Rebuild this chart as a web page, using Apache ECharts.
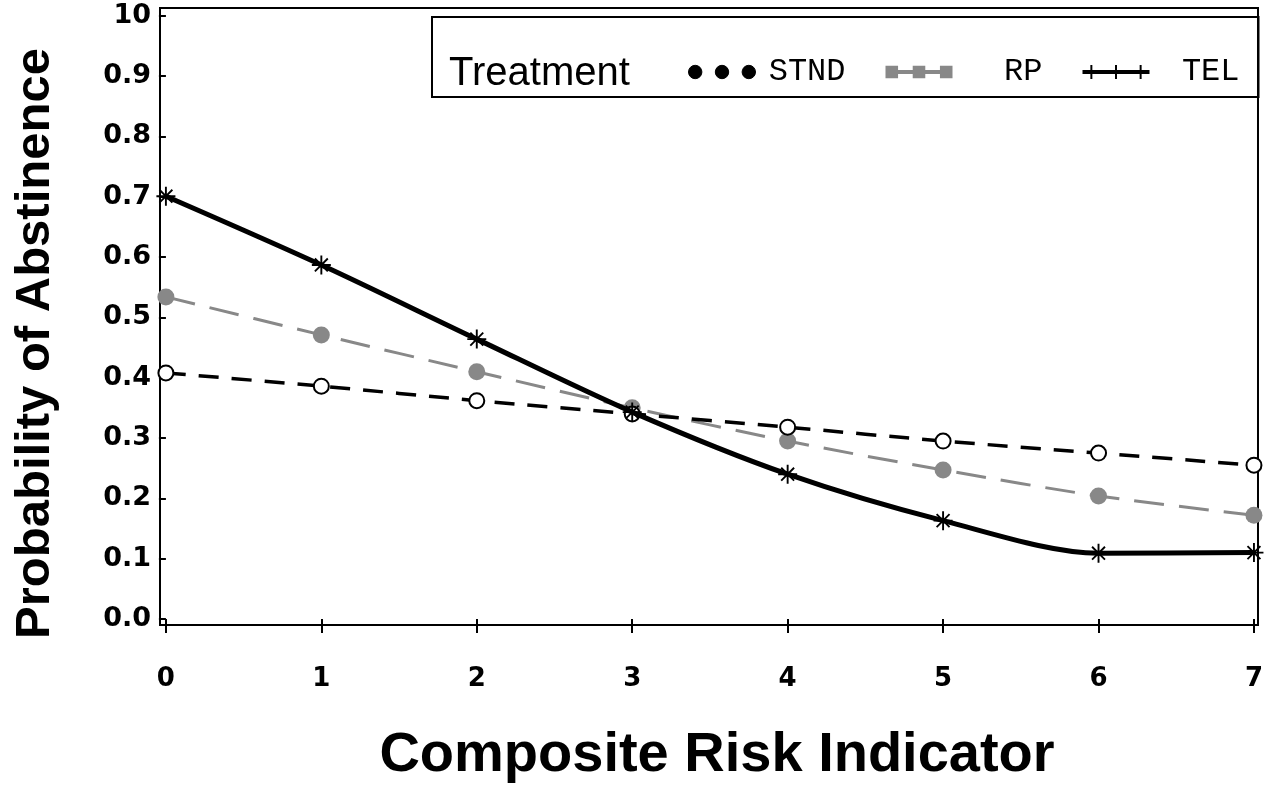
<!DOCTYPE html>
<html>
<head>
<meta charset="utf-8">
<script src="https://cdn.jsdelivr.net/npm/echarts@6/dist/echarts.min.js"></script>
<style>
  html, body { margin: 0; padding: 0; background: #fff; }
  #chart { width: 1266px; height: 790px; }
</style>
</head>
<body>
<div id="chart"></div>
<script>
// values
var riskValues = [0, 1, 2, 3, 4, 5, 6, 7];
var stndValues = [0.408, 0.386, 0.362, 0.340, 0.318, 0.295, 0.275, 0.255];
var rpValues = [0.534, 0.471, 0.410, 0.350, 0.295, 0.247, 0.204, 0.172];
var telValues = [0.701, 0.587, 0.464, 0.343, 0.240, 0.163, 0.109, 0.110];
var yTickValues = [0, 0.1, 0.2, 0.3, 0.4, 0.5, 0.6, 0.7, 0.8, 0.9, 1.0];
var yTickLabels = ['0.0', '0.1', '0.2', '0.3', '0.4', '0.5', '0.6', '0.7', '0.8', '0.9', '10'];
var xTickValues = [0, 1, 2, 3, 4, 5, 6, 7];

function pairs(ys) {
    return riskValues.map(function (x, i) { return [x, ys[i]]; });
}

// asterisk like marker
var starPath = 'path://M9,0h2v9h9v2h-9v9h-2v-9h-9v-2h9z M2.5,3.9l1.4,-1.4l13.6,13.6l-1.4,1.4z M16.1,2.5l1.4,1.4l-13.6,13.6l-1.4,-1.4z';

// legend icons: three markers along a line, like the SAS legend
var stndIcon = 'path://M0,8a6.5,6.5 0 1,0 13,0a6.5,6.5 0 1,0 -13,0z M26,8a6.5,6.5 0 1,0 13,0a6.5,6.5 0 1,0 -13,0z M52,8a6.5,6.5 0 1,0 13,0a6.5,6.5 0 1,0 -13,0z';
var rpIcon = 'path://M0,2h12v4h14v-4h12v4h14v-4h12v12h-12v-4h-14v4h-12v-4h-14v4h-12z';
var telIcon = 'path://M0,6h68v4h-68z M8,1h2v14h-2z M33,1h2v14h-2z M58,1h2v14h-2z';

var chart = echarts.init(document.getElementById('chart'));

var option = {
    animation: false,
    backgroundColor: '#fff',
    title: {
        text: 'Treatment',
        left: 444,
        top: 49,
        textStyle: {
            fontFamily: 'Liberation Sans',
            fontWeight: 'normal',
            fontSize: 40,
            color: '#000'
        }
    },
    legend: {
        left: 432,
        top: 17,
        orient: 'horizontal',
        padding: [39, 19, 9, 256],
        itemGap: 40,
        itemWidth: 67,
        itemHeight: 16,
        borderColor: '#000',
        borderWidth: 2,
        data: [
            { name: 'STND', icon: stndIcon, itemStyle: { color: '#000', borderColor: '#000', borderWidth: 1 } },
            { name: 'RP', icon: rpIcon, itemStyle: { color: '#888', borderWidth: 0 } },
            { name: 'TEL', icon: telIcon, itemStyle: { color: '#000', borderWidth: 0 } }
        ],
        formatter: function (name) { return '{a|' + name + '}'; },
        textStyle: {
            color: '#000',
            fontFamily: 'Liberation Mono',
            fontSize: 32,
            lineHeight: 32,
            rich: {
                a: {
                    width: 85,
                    align: 'right',
                    fontFamily: 'Liberation Mono',
                    fontSize: 32,
                    lineHeight: 32,
                    color: '#000'
                }
            }
        }
    },
    grid: {
        left: 160,
        right: 4,
        top: 8,
        bottom: 165,
        show: true,
        borderColor: '#000',
        borderWidth: 2
    },
    xAxis: {
        type: 'value',
        min: -0.038,
        max: 7.026,
        name: 'Composite Risk Indicator',
        nameLocation: 'middle',
        nameGap: 103,
        nameTextStyle: {
            fontFamily: 'Liberation Sans',
            fontWeight: 'bold',
            fontSize: 56,
            color: '#000',
            padding: [0, 0, 0, 16]
        },
        axisLine: { show: false },
        splitLine: { show: false },
        axisTick: {
            show: true,
            customValues: xTickValues,
            length: 14,
            lineStyle: { color: '#000', width: 2 }
        },
        axisLabel: {
            customValues: xTickValues,
            margin: 41,
            fontFamily: 'DejaVu Sans',
            fontWeight: 'bold',
            fontSize: 26,
            color: '#000'
        }
    },
    yAxis: {
        type: 'value',
        min: -0.010,
        max: 1.013,
        name: 'Probability of Abstinence',
        nameLocation: 'middle',
        nameGap: 100,
        nameRotate: 90,
        nameTextStyle: {
            fontFamily: 'Liberation Sans',
            fontWeight: 'bold',
            fontSize: 49,
            color: '#000',
            padding: [0, 54, 0, 0]
        },
        axisLine: { show: false },
        splitLine: { show: false },
        axisTick: {
            show: true,
            customValues: yTickValues,
            length: 7,
            lineStyle: { color: '#000', width: 2 }
        },
        axisLabel: {
            customValues: yTickValues,
            margin: 9,
            fontFamily: 'DejaVu Sans',
            fontWeight: 'bold',
            fontSize: 27,
            color: '#000',
            formatter: function (v) {
                var i = yTickValues.findIndex(function (t) { return Math.abs(t - v) < 1e-6; });
                return i >= 0 ? yTickLabels[i] : '';
            }
        }
    },
    series: [
        {
            name: 'STND',
            type: 'line',
            smooth: 0.3,
            data: pairs(stndValues),
            symbol: 'circle',
            symbolSize: 15,
            itemStyle: { color: '#fff', borderColor: '#000', borderWidth: 2 },
            lineStyle: { color: '#000', width: 3.5, type: [20, 13] },
            z: 3
        },
        {
            name: 'RP',
            type: 'line',
            smooth: 0.3,
            data: pairs(rpValues),
            symbol: 'circle',
            symbolSize: 17,
            itemStyle: { color: '#888', borderWidth: 0 },
            lineStyle: { color: '#888', width: 3, type: [30, 15] },
            z: 2
        },
        {
            name: 'TEL',
            type: 'line',
            smooth: 0.3,
            data: pairs(telValues),
            symbol: starPath,
            symbolSize: 19,
            itemStyle: { color: '#000', borderWidth: 0 },
            lineStyle: { color: '#000', width: 5 },
            z: 4
        }
    ]
};

chart.setOption(option);
</script>
</body>
</html>
